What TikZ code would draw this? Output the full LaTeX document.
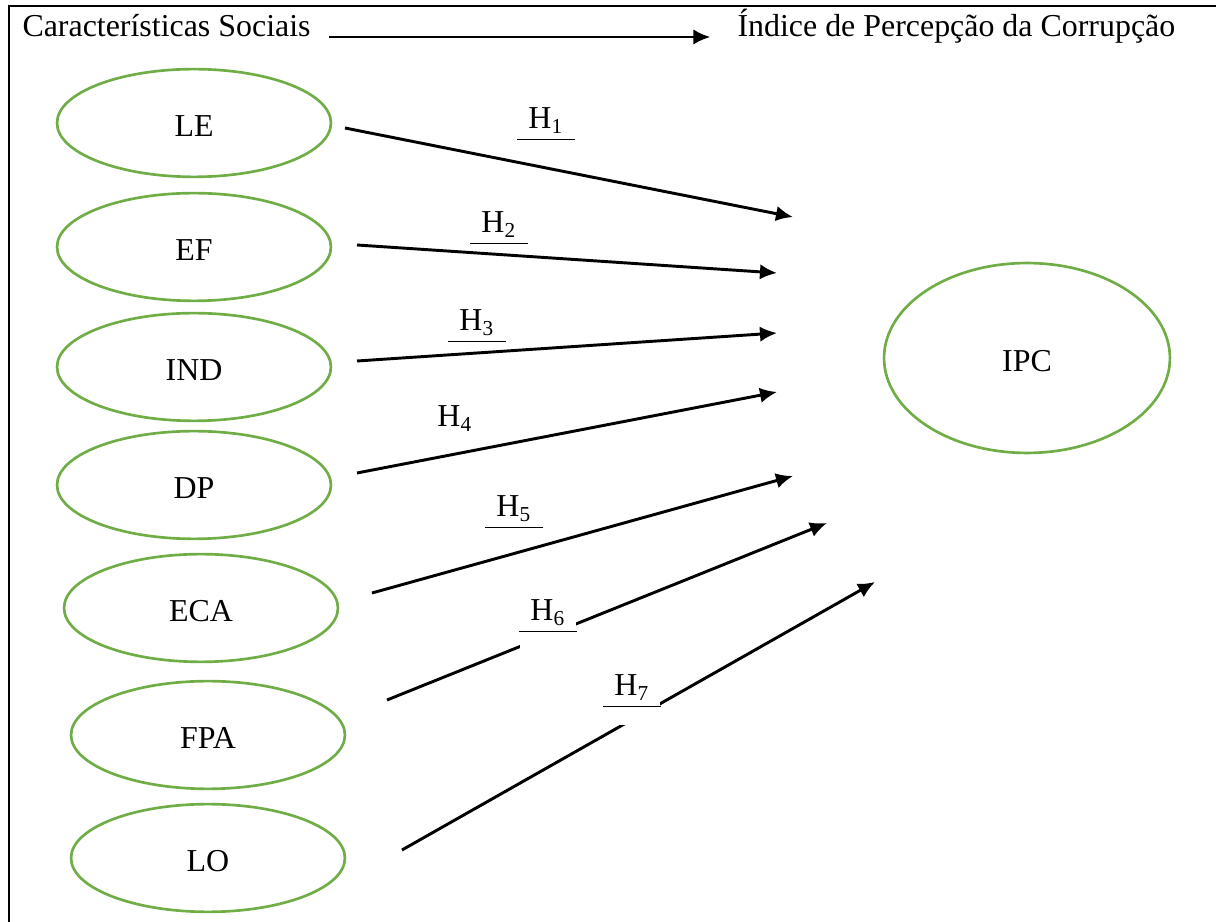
\documentclass[tikz,border=0pt]{standalone}
\usepackage{fontspec}
\setmainfont{Liberation Serif}
\usepackage{tikz}
\usetikzlibrary{shapes.geometric,arrows.meta}

\definecolor{varverde}{RGB}{112,173,71}

\begin{document}
\begin{tikzpicture}[x=0.376pt, y=-0.376pt, font=\fontsize{12}{14}\selectfont,
  variavel/.style={ellipse, draw=varverde, line width=1pt, minimum width=103pt, minimum height=40.5pt, inner sep=0pt, text height=10.2pt, text depth=0pt},
  hipotese/.style={line width=1.1pt, -{Latex[length=6.4pt,width=5.8pt]}},
  rotulo/.style={inner sep=4pt, fill=white, anchor=base},
  rotulolargo/.style={rotulo, inner ysep=9pt}]
\useasboundingbox (0,0) rectangle (1216,922);

% moldura
\draw [line width=0.8pt] (9,922) -- (9,6) -- (1216,6);

% titulo
\node [anchor=base west, inner sep=0pt] (sociais) at (22,37) {Características Sociais};
\node [anchor=base west, inner sep=0pt] (indice) at (737,37) {Índice de Percepção da Corrupção};
\draw [hipotese, shorten <=6.8pt, shorten >=10pt] (sociais.east |- 0,37) -- (indice.west |- 0,37);

% variaveis
\node [variavel] (LE) at (194,123) {LE};
\node [variavel] (EF) at (194,247) {EF};
\node [variavel] (IND) at (194,367) {IND};
\node [variavel] (DP) at (194,485) {DP};
\node [variavel] (ECA) at (201,608) {ECA};
\node [variavel] (FPA) at (208,735) {FPA};
\node [variavel] (LO) at (208,858) {LO};
\node [variavel, minimum width=107.5pt, minimum height=71.4pt] (IPC) at (1027,358) {IPC};

% pontas das setas
\coordinate (le1) at (345,128);   \coordinate (le2) at (793,217);
\coordinate (ef1) at (357,245);   \coordinate (ef2) at (777,273);
\coordinate (ind1) at (357,361);  \coordinate (ind2) at (777,333);
\coordinate (dp1) at (357,473);   \coordinate (dp2) at (777,392);
\coordinate (eca1) at (372,593);  \coordinate (eca2) at (793,476);
\coordinate (fpa1) at (387,700);  \coordinate (fpa2) at (827,523);
\coordinate (lo1) at (402,850);   \coordinate (lo2) at (875,582);

\draw [hipotese] (le1) -- (le2);
\draw [hipotese] (ef1) -- (ef2);
\draw [hipotese] (ind1) -- (ind2);
\draw [hipotese] (dp1) -- (dp2);
\draw [hipotese] (eca1) -- (eca2);
\draw [hipotese] (fpa1) -- (fpa2);
\draw [hipotese] (lo1) -- (lo2);

% hipoteses
\node [rotulo] (h1) at (546,129) {H\textsubscript{1}};
\node [rotulo] (h2) at (499,233) {H\textsubscript{2}};
\node [rotulo] (h3) at (477,331) {H\textsubscript{3}};
\node [rotulo] (h4) at (455,427) {H\textsubscript{4}};
\node [rotulo] (h5) at (514,517) {H\textsubscript{5}};
\node [rotulolargo] (h6) at (548,621) {H\textsubscript{6}};
\node [rotulolargo] (h7) at (632,696) {H\textsubscript{7}};

\draw [line width=0.6pt] ([yshift=-4pt]h1.base west) -- ([yshift=-4pt]h1.base east);
\draw [line width=0.6pt] ([yshift=-4pt]h2.base west) -- ([yshift=-4pt]h2.base east);
\draw [line width=0.6pt] ([yshift=-4pt]h3.base west) -- ([yshift=-4pt]h3.base east);
\draw [line width=0.6pt] ([yshift=-4pt]h5.base west) -- ([yshift=-4pt]h5.base east);
\draw [line width=0.6pt] ([yshift=-4pt]h6.base west) -- ([yshift=-4pt]h6.base east);
\draw [line width=0.6pt] ([yshift=-4pt]h7.base west) -- ([yshift=-4pt]h7.base east);

\end{tikzpicture}
\end{document}
